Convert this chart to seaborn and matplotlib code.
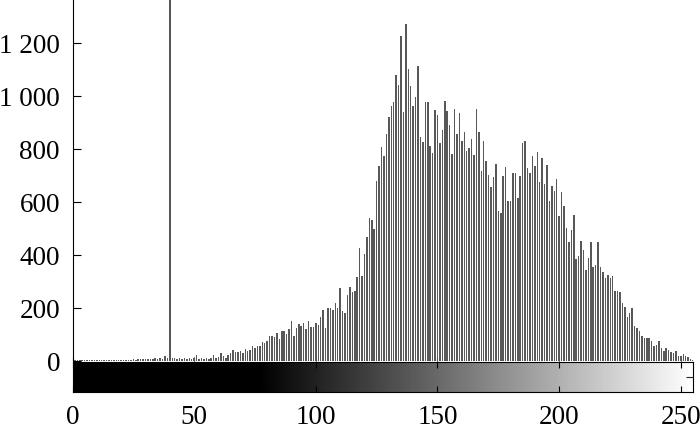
import numpy as np
import pandas as pd
import matplotlib
matplotlib.use("Agg")
import matplotlib.pyplot as plt
import seaborn as sns

# ---- data (grey level histogram, 256 bins) ----
levels = list(range(256))
counts_000_049 = [2, 2, 3, 2, 2, 3, 3, 2, 3, 3,
                  3, 3, 4, 3, 3, 4, 3, 4, 4, 3,
                  4, 5, 4, 5, 5, 6, 5, 6, 7, 6,
                  8, 7, 9, 8, 12, 9, 10, 8, 17, 10,
                  3600, 11, 10, 9, 10, 8, 10, 9, 11, 8]
counts_050_099 = [10, 21, 8, 10, 9, 12, 8, 10, 22, 10,
                  15, 29, 17, 12, 21, 29, 42, 35, 33, 37,
                  30, 45, 38, 40, 58, 50, 58, 58, 72, 68,
                  77, 96, 95, 89, 106, 83, 115, 112, 100, 121,
                  150, 95, 123, 140, 133, 142, 121, 152, 130, 130]
counts_100_149 = [143, 137, 167, 193, 126, 201, 199, 193, 219, 201,
                  274, 187, 183, 249, 280, 262, 266, 316, 428, 322,
                  404, 467, 540, 533, 498, 680, 737, 807, 775, 857,
                  920, 963, 978, 1080, 1041, 1228, 940, 1272, 1102, 1039,
                  963, 996, 1114, 845, 826, 977, 976, 811, 784, 947]
counts_150_199 = [928, 822, 873, 981, 945, 891, 781, 951, 857, 935,
                  831, 863, 794, 802, 838, 777, 951, 863, 717, 829,
                  754, 703, 657, 696, 743, 565, 557, 697, 731, 603,
                  603, 709, 709, 615, 699, 821, 829, 728, 708, 772,
                  737, 790, 674, 765, 668, 740, 603, 662, 643, 687]
counts_200_255 = [548, 639, 586, 501, 450, 495, 552, 385, 397, 453,
                  419, 342, 388, 450, 353, 363, 450, 353, 337, 315,
                  326, 315, 322, 263, 263, 262, 219, 202, 165, 180,
                  199, 131, 123, 114, 96, 86, 86, 86, 77, 58,
                  60, 77, 48, 39, 50, 41, 33, 29, 39, 18,
                  19, 26, 18, 14, 7, 3]
counts = counts_000_049 + counts_050_099 + counts_100_149 + counts_150_199 + counts_200_255

y_ticks = [0, 200, 400, 600, 800, 1000, 1200]
y_tick_labels = ["0", "200", "400", "600", "800", "1 000", "1 200"]
x_ticks = [0, 50, 100, 150, 200, 250]
x_tick_labels = ["0", "50", "100", "150", "200", "250"]

# ---- style ----
sns.set_style("ticks")
plt.rcParams["font.family"] = ["Liberation Serif", "DejaVu Serif"]
FS = 19.5

fig = plt.figure(figsize=(7.0, 4.31), dpi=100)
W, H = 700.0, 431.0
left, right = 72.5, 693.0
ax = fig.add_axes([left / W, (H - 362) / H, (right - left) / W, 362 / H])

df = pd.DataFrame({"level": levels, "count": counts})
sns.barplot(data=df, x="level", y="count", native_scale=True, width=0.62,
            color="#585858", saturation=1, linewidth=0, ax=ax)

ax.set_xlim(0, 255)
ax.set_ylim(0, 1366)
ax.set_xlabel("")
ax.set_ylabel("")
ax.set_yticks(y_ticks)
ax.set_yticklabels(y_tick_labels)
ax.set_xticks(x_ticks)
ax.set_xticklabels([])
ax.tick_params(axis="y", direction="in", length=6, width=0.8, pad=9,
               labelsize=FS, colors="black")
ax.tick_params(axis="x", direction="in", length=3, width=0.8, colors="black")
for s in ["top", "right", "bottom"]:
    ax.spines[s].set_visible(False)
ax.spines["left"].set_color("black")
ax.spines["left"].set_linewidth(0.8)
ax.set_facecolor("white")

# ---- grey colour bar below ----
cax = fig.add_axes([left / W, (H - 393) / H, (right - left) / W, 30 / H])
lv = np.asarray(levels, dtype=float)
shade = np.clip((lv - 76) / (255 - 76), 0, 1)
cax.imshow(shade[np.newaxis, :], aspect="auto", cmap="gray", vmin=0, vmax=1,
           extent=(0, 255, 0, 1), interpolation="bilinear")
cax.set_xlim(0, 255)
cax.set_ylim(0, 1)
cax.set_xticks(x_ticks)
cax.set_xticklabels(x_tick_labels)
cax.tick_params(axis="x", direction="in", top=True, bottom=True, length=4,
                width=0.8, pad=9, labelsize=FS, colors="black")
cax.set_yticks([0.5])
cax.yaxis.tick_right()
cax.tick_params(axis="y", direction="in", length=5, width=0.8, labelright=False,
                left=False, right=True)
for s in cax.spines.values():
    s.set_color("black")
    s.set_linewidth(0.8)

fig.savefig("out.png", dpi=100, facecolor="white")
